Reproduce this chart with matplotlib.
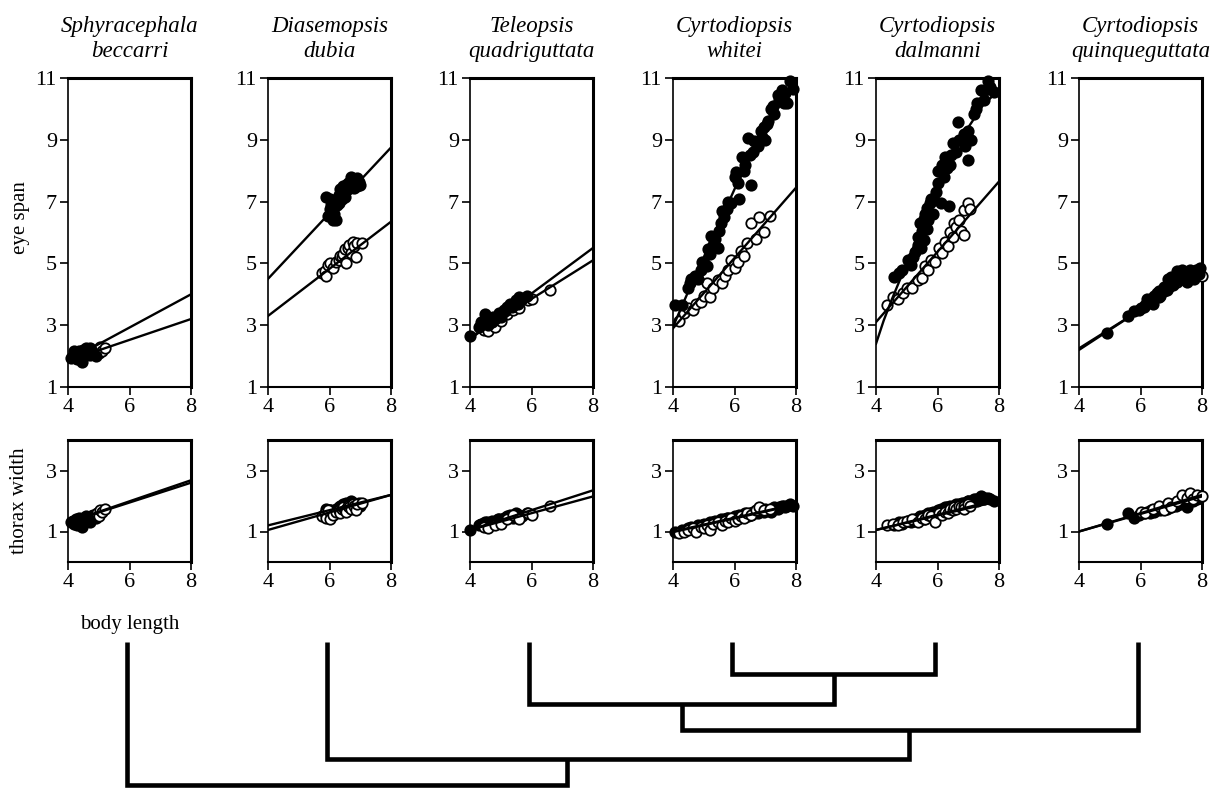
import matplotlib
matplotlib.use("Agg")
import matplotlib.pyplot as plt
import numpy as np

plt.rcParams.update({
    "font.family": ["Liberation Serif", "DejaVu Serif"],
    "font.size": 15,
})

# species names (genus, species)
genera = ["Sphyracephala", "Diasemopsis", "Teleopsis",
          "Cyrtodiopsis", "Cyrtodiopsis", "Cyrtodiopsis"]
species = ["beccarri", "dubia", "quadriguttata",
           "whitei", "dalmanni", "quinqueguttata"]

# per-fly data: columns = body length, eye span, thorax width
sph_m = np.array([[4.1, 1.95, 1.3], [4.15, 2.0, 1.35], [4.2, 2.05, 1.25], [4.25, 1.95, 1.4],
                  [4.3, 2.1, 1.3], [4.3, 1.9, 1.2], [4.35, 2.15, 1.45], [4.4, 2.05, 1.35],
                  [4.45, 1.8, 1.15], [4.5, 2.2, 1.45], [4.55, 2.1, 1.4], [4.6, 2.25, 1.5],
                  [4.65, 2.15, 1.35], [4.7, 2.05, 1.3], [4.75, 2.2, 1.5], [4.8, 2.1, 1.55],
                  [4.9, 2.0, 1.45], [4.2, 2.15, 1.35], [4.35, 1.95, 1.3], [4.5, 2.0, 1.4],
                  [4.6, 2.05, 1.45], [4.7, 2.25, 1.4]])
sph_f = np.array([[4.95, 2.2, 1.6], [5.0, 2.1, 1.5], [5.05, 2.3, 1.7], [5.1, 2.15, 1.65],
                  [5.2, 2.25, 1.75]])

dia_m = np.array([[5.9, 7.15, 1.75], [5.95, 6.55, 1.6], [6.0, 7.1, 1.7], [6.05, 6.9, 1.65],
                  [6.1, 6.4, 1.55], [6.2, 6.4, 1.6], [6.2, 7.0, 1.75], [6.25, 6.9, 1.7],
                  [6.3, 7.2, 1.8], [6.35, 7.4, 1.85], [6.4, 7.1, 1.75], [6.45, 7.5, 1.9],
                  [6.5, 7.3, 1.8], [6.55, 7.55, 1.95], [6.6, 7.4, 1.85], [6.65, 7.6, 1.9],
                  [6.7, 7.8, 2.0], [6.75, 7.5, 1.85], [6.8, 7.7, 1.95], [6.85, 7.6, 1.8],
                  [6.9, 7.5, 1.9], [6.95, 7.65, 1.95], [7.0, 7.55, 1.85], [6.0, 6.75, 1.7],
                  [6.15, 6.6, 1.65], [6.3, 6.95, 1.75], [6.5, 7.15, 1.8], [6.6, 7.6, 1.9],
                  [6.8, 7.45, 1.85], [6.9, 7.75, 1.9]])
dia_f = np.array([[5.75, 4.7, 1.5], [5.85, 4.75, 1.6], [5.9, 4.6, 1.45], [5.95, 4.95, 1.7],
                  [6.0, 5.0, 1.4], [6.1, 4.85, 1.55], [6.2, 5.05, 1.65], [6.3, 5.1, 1.7],
                  [6.35, 5.25, 1.6], [6.4, 5.2, 1.75], [6.45, 5.3, 1.8], [6.5, 5.45, 1.7],
                  [6.55, 5.0, 1.65], [6.6, 5.5, 1.85], [6.65, 5.6, 1.8], [6.7, 5.35, 1.75],
                  [6.75, 5.7, 1.9], [6.8, 5.55, 1.85], [6.85, 5.2, 1.7], [6.9, 5.65, 1.9],
                  [7.05, 5.65, 1.95]])

tel_m = np.array([[4.0, 2.65, 1.05], [4.3, 2.95, 1.2], [4.4, 3.05, 1.25], [4.5, 3.35, 1.3],
                  [4.6, 3.0, 1.25], [4.7, 3.1, 1.35], [4.8, 3.2, 1.3], [4.9, 3.3, 1.4],
                  [5.0, 3.25, 1.35], [5.1, 3.5, 1.45], [5.2, 3.6, 1.5], [5.3, 3.7, 1.55],
                  [5.4, 3.65, 1.45], [5.5, 3.8, 1.6], [5.6, 3.9, 1.55], [5.7, 3.85, 1.5],
                  [5.85, 3.95, 1.6], [4.35, 3.1, 1.25], [4.55, 3.15, 1.3], [4.75, 3.25, 1.3],
                  [4.95, 3.4, 1.4], [5.15, 3.45, 1.45], [5.35, 3.6, 1.5], [5.55, 3.7, 1.55]])
tel_f = np.array([[4.45, 2.85, 1.15], [4.6, 2.8, 1.1], [4.8, 2.95, 1.2], [5.0, 3.15, 1.25],
                  [5.2, 3.35, 1.4], [5.4, 3.5, 1.55], [5.6, 3.55, 1.4], [5.9, 3.8, 1.6],
                  [6.0, 3.85, 1.55], [6.6, 4.15, 1.85]])

whi_m = np.array([[4.05, 3.65, 1.0], [4.3, 3.65, 1.05], [4.5, 4.2, 1.1], [4.6, 4.5, 1.15],
                  [4.7, 4.6, 1.1], [4.8, 4.5, 1.2], [4.9, 4.8, 1.15], [5.0, 5.0, 1.25],
                  [5.1, 4.9, 1.2], [5.2, 5.3, 1.3], [5.25, 5.9, 1.25], [5.35, 5.8, 1.35],
                  [5.45, 5.5, 1.3], [5.55, 6.3, 1.4], [5.6, 6.7, 1.35], [5.75, 6.75, 1.45],
                  [5.9, 6.95, 1.4], [6.0, 7.8, 1.5], [6.05, 7.95, 1.45], [6.15, 7.1, 1.55],
                  [6.25, 8.45, 1.5], [6.35, 8.2, 1.6], [6.45, 9.05, 1.5], [6.55, 7.55, 1.55],
                  [6.6, 8.6, 1.65], [6.75, 8.8, 1.6], [6.85, 9.3, 1.7], [6.95, 9.4, 1.65],
                  [7.0, 9.0, 1.75], [7.1, 9.6, 1.7], [7.2, 10.0, 1.65], [7.3, 9.85, 1.8],
                  [7.4, 10.45, 1.75], [7.45, 10.3, 1.8], [7.55, 10.6, 1.85], [7.65, 10.5, 1.8],
                  [7.7, 10.2, 1.85], [7.8, 10.9, 1.9], [7.9, 10.65, 1.85],
                  [4.55, 4.35, 1.1], [4.95, 5.05, 1.2], [5.15, 5.45, 1.25], [5.3, 5.6, 1.3],
                  [5.5, 6.05, 1.35], [5.65, 6.5, 1.4], [5.8, 7.0, 1.45], [6.1, 7.6, 1.5],
                  [6.3, 8.0, 1.55], [6.5, 8.5, 1.6], [6.65, 8.95, 1.6], [6.9, 9.1, 1.7],
                  [7.05, 9.5, 1.7], [7.25, 10.1, 1.75], [7.5, 10.35, 1.8], [7.6, 10.2, 1.85]])
whi_f = np.array([[4.2, 3.15, 0.95], [4.35, 3.4, 1.0], [4.5, 3.55, 1.05], [4.65, 3.5, 1.1],
                  [4.75, 3.7, 1.0], [4.9, 3.75, 1.15], [5.0, 3.95, 1.1], [5.1, 4.35, 1.2],
                  [5.2, 3.9, 1.05], [5.3, 4.2, 1.25], [5.45, 4.45, 1.3], [5.6, 4.35, 1.2],
                  [5.7, 4.6, 1.35], [5.8, 4.8, 1.3], [5.9, 5.1, 1.45], [6.0, 4.85, 1.35],
                  [6.1, 5.05, 1.4], [6.2, 5.4, 1.5], [6.3, 5.25, 1.45], [6.4, 5.65, 1.6],
                  [6.55, 6.3, 1.55], [6.7, 5.8, 1.7], [6.8, 6.5, 1.8], [6.95, 6.0, 1.7],
                  [7.15, 6.55, 1.75]])

dal_m = np.array([[4.6, 4.55, 1.2], [4.75, 4.7, 1.3], [4.85, 4.8, 1.25], [5.05, 5.1, 1.35],
                  [5.15, 4.95, 1.3], [5.28, 5.37, 1.4], [5.35, 5.6, 1.45], [5.38, 5.85, 1.35],
                  [5.44, 6.3, 1.5], [5.5, 6.05, 1.45], [5.55, 5.75, 1.4], [5.6, 6.6, 1.55],
                  [5.67, 6.1, 1.5], [5.7, 6.4, 1.6], [5.77, 6.95, 1.55], [5.85, 6.6, 1.65],
                  [5.9, 7.05, 1.6], [6.0, 7.6, 1.7], [6.03, 8.0, 1.65], [6.1, 6.95, 1.75],
                  [6.2, 7.8, 1.7], [6.26, 8.45, 1.8], [6.37, 6.85, 1.75], [6.4, 8.2, 1.85],
                  [6.5, 8.9, 1.8], [6.6, 8.6, 1.9], [6.66, 9.58, 1.85], [6.8, 9.0, 1.95],
                  [6.9, 8.8, 1.9], [6.98, 8.35, 2.0], [7.08, 9.0, 1.95], [7.18, 9.85, 2.05],
                  [7.3, 10.2, 2.0], [7.41, 10.6, 2.15], [7.5, 10.3, 2.05], [7.64, 10.9, 2.1],
                  [7.84, 10.55, 2.0], [5.2, 5.2, 1.35], [5.45, 5.5, 1.45], [5.55, 6.45, 1.5],
                  [5.65, 6.8, 1.55], [5.8, 7.1, 1.6], [5.95, 7.3, 1.65], [6.15, 8.2, 1.7],
                  [6.3, 8.1, 1.8], [6.45, 8.5, 1.8], [6.7, 9.0, 1.9], [6.85, 9.2, 1.95],
                  [7.0, 9.3, 2.0], [7.25, 10.0, 2.05], [7.55, 10.6, 2.1], [7.7, 10.7, 2.05]])
dal_f = np.array([[4.35, 3.65, 1.2], [4.56, 3.9, 1.25], [4.7, 3.85, 1.2], [4.89, 4.04, 1.3],
                  [5.0, 4.2, 1.35], [5.18, 4.2, 1.4], [5.35, 4.45, 1.3], [5.51, 4.52, 1.45],
                  [5.6, 4.9, 1.4], [5.7, 4.78, 1.55], [5.8, 5.1, 1.5], [5.93, 5.05, 1.3],
                  [6.05, 5.5, 1.6], [6.15, 5.34, 1.55], [6.25, 5.7, 1.65], [6.33, 5.55, 1.6],
                  [6.4, 6.0, 1.75], [6.49, 5.86, 1.7], [6.55, 6.3, 1.8], [6.6, 6.18, 1.75],
                  [6.7, 6.4, 1.85], [6.75, 6.05, 1.8], [6.85, 6.72, 1.85], [6.85, 5.92, 1.75],
                  [6.98, 6.95, 1.9], [7.05, 6.75, 1.85]])

qui_m = np.array([[4.9, 2.75, 1.25], [5.6, 3.3, 1.6], [5.8, 3.45, 1.45], [5.95, 3.5, 1.55],
                  [6.1, 3.6, 1.6], [6.2, 3.85, 1.65], [6.3, 3.75, 1.6], [6.4, 3.7, 1.7],
                  [6.45, 3.95, 1.65], [6.55, 4.05, 1.75], [6.65, 3.95, 1.7], [6.75, 4.25, 1.8],
                  [6.85, 4.15, 1.75], [6.9, 4.5, 1.85], [7.0, 4.55, 1.8], [7.05, 4.3, 1.9],
                  [7.15, 4.45, 1.85], [7.2, 4.75, 1.95], [7.3, 4.5, 1.9], [7.35, 4.8, 2.0],
                  [7.45, 4.7, 1.95], [7.5, 4.4, 1.8], [7.6, 4.8, 2.05], [7.7, 4.6, 2.0],
                  [7.75, 4.5, 2.1], [7.85, 4.75, 2.05], [7.95, 4.85, 2.15], [6.35, 3.85, 1.7],
                  [6.6, 4.1, 1.75], [6.95, 4.35, 1.85], [7.25, 4.6, 1.9], [7.4, 4.6, 1.95],
                  [7.55, 4.65, 2.0], [7.8, 4.8, 2.05], [7.9, 4.65, 2.1]])
qui_f = np.array([[6.0, 3.55, 1.65], [6.15, 3.65, 1.6], [6.4, 3.8, 1.75], [6.6, 3.9, 1.85],
                  [6.75, 4.1, 1.7], [6.9, 4.2, 1.95], [7.0, 4.3, 1.8], [7.2, 4.4, 2.0],
                  [7.35, 4.5, 2.2], [7.5, 4.55, 2.1], [7.6, 4.6, 2.25], [7.7, 4.65, 2.05],
                  [7.85, 4.7, 2.2], [8.0, 4.6, 2.15]])

males = [sph_m, dia_m, tel_m, whi_m, dal_m, qui_m]
females = [sph_f, dia_f, tel_f, whi_f, dal_f, qui_f]

# fitted lines: (x vertices, y vertices)
fit_x = [4, 8]
es_fit_f = [[1.85, 3.2], [3.3, 6.35], [2.6, 5.1], [2.9, 7.45], [3.1, 7.65], [2.25, 4.75]]
es_fit_m = [
    (fit_x, [1.85, 4.0]),
    (fit_x, [4.5, 8.75]),
    (fit_x, [2.55, 5.5]),
    ([4.0, 4.5, 5.0, 5.5, 6.0, 6.5, 7.0, 7.5, 8.0],
     [2.95, 4.1, 5.2, 6.3, 7.4, 8.4, 9.35, 10.15, 10.7]),
    ([4.0, 4.25, 4.5, 5.0, 5.5, 6.0, 6.5, 7.0, 7.5, 8.0],
     [2.4, 3.15, 3.8, 5.0, 6.2, 7.35, 8.45, 9.4, 10.15, 10.6]),
    (fit_x, [2.2, 4.8]),
]
tw_fit_m = [[1.3, 2.68], [1.2, 2.2], [1.05, 2.35], [1.0, 1.9], [1.05, 2.05], [1.0, 2.2]]
tw_fit_f = [[1.3, 2.6], [1.05, 2.2], [1.05, 2.15], [0.98, 1.88], [1.05, 2.0], [1.0, 2.15]]

W, H = 1217, 788
fig = plt.figure(figsize=(W / 100, H / 100), dpi=100)

lefts = [68, 268, 470, 673, 876, 1079]
pw = 123
ms = 7.5


def style(ax, yticks, ylim):
    ax.set_xlim(4, 8)
    ax.set_ylim(*ylim)
    ax.set_xticks([4, 6, 8])
    ax.set_yticks(yticks)
    ax.tick_params(direction="out", length=6, width=1.2, labelsize=16, pad=2)
    ax.spines["left"].set_linewidth(1.2)
    ax.spines["bottom"].set_linewidth(1.5)
    ax.spines["top"].set_linewidth(2.2)
    ax.spines["right"].set_linewidth(2.2)


for i, l in enumerate(lefts):
    m, f = males[i], females[i]

    # eye span vs body length
    ax = fig.add_axes([l / W, 1 - 387 / H, pw / W, 309 / H])
    style(ax, [1, 3, 5, 7, 9, 11], (1, 11))
    ax.plot(f[:, 0], f[:, 1], "o", ms=ms, mfc="white", mec="black", mew=1.3,
            clip_on=False, zorder=3)
    ax.plot(m[:, 0], m[:, 1], "o", ms=ms, mfc="black", mec="black", mew=1.3,
            clip_on=False, zorder=4)
    ax.plot(fit_x, es_fit_f[i], color="black", lw=1.7, zorder=5)
    ax.plot(*es_fit_m[i], color="black", lw=1.7, zorder=5)
    ax.set_title(f"{genera[i]}\n{species[i]}", fontstyle="italic", fontsize=16.5,
                 pad=15, linespacing=1.25)

    # thorax width vs body length
    ax = fig.add_axes([l / W, 1 - 562 / H, pw / W, 122 / H])
    style(ax, [1, 3], (0, 4))
    ax.plot(m[:, 0], m[:, 2], "o", ms=ms, mfc="black", mec="black", mew=1.3,
            clip_on=False, zorder=3)
    ax.plot(f[:, 0], f[:, 2], "o", ms=ms, mfc="white", mec="black", mew=1.3,
            clip_on=False, zorder=4)
    ax.plot(fit_x, tw_fit_m[i], color="black", lw=1.7, zorder=5)
    ax.plot(fit_x, tw_fit_f[i], color="black", lw=1.7, zorder=5)

fig.text(20 / W, 1 - 218 / H, "eye span", rotation=90, ha="center", va="center", fontsize=15)
fig.text(20 / W, 1 - 501 / H, "thorax width", rotation=90, ha="center", va="center", fontsize=15)
fig.text(130 / W, 1 - 625 / H, "body length", ha="center", va="center", fontsize=15)

# phylogeny below the panels (figure pixel coordinates)
leaf_x = [l + pw / 2 - 3 for l in lefts]
leaf_top = 642
# internal nodes: (left x, right x, join y)
nodes = [
    (leaf_x[3], leaf_x[4], 674),
    (leaf_x[2], 834, 704),
    (682, leaf_x[5], 730),
    (leaf_x[1], 909, 759),
    (leaf_x[0], 567, 785),
]
tops = {leaf_x[k]: leaf_top for k in range(6)}
tops.update({834: 674, 682: 704, 909: 730, 567: 759})

dax = fig.add_axes([0, 0, 1, 1])
dax.set_xlim(0, W)
dax.set_ylim(H, 0)
dax.axis("off")
for xl, xr, y in nodes:
    dax.plot([xl, xl, xr, xr], [tops[xl], y, y, tops[xr]], color="black", lw=3.3,
             solid_joinstyle="miter", solid_capstyle="butt")

fig.savefig("out.png", dpi=100)
